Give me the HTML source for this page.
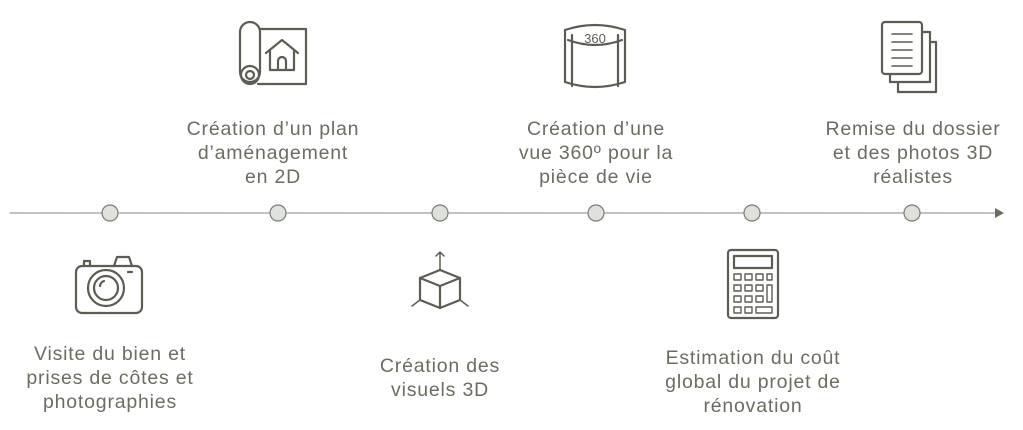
<!DOCTYPE html>
<html><head><meta charset="utf-8"><style>
body{margin:0;width:1023px;height:430px;background:#fff;position:relative;overflow:hidden;font-family:"Liberation Sans",sans-serif}
.t{position:absolute;width:280px;text-align:center;color:#6a6e60;font-size:19.5px;letter-spacing:0.8px;line-height:24px}
svg{position:absolute;left:0;top:0}
</style></head><body>
<svg width="1023" height="430" fill="none" stroke="#5a5e52" stroke-width="2.2" stroke-linecap="round" stroke-linejoin="round">
<line x1="10" y1="213" x2="1000" y2="213" stroke="#777" stroke-width="1" stroke-dasharray="1.5 1"/>
<polygon points="995,208 1004,213 995,218" fill="#6a6e60" stroke="none"/>
<g fill="#dfe1dc" stroke="#7a7c74" stroke-width="1.2">
<ellipse cx="110" cy="213" rx="8" ry="8"/><ellipse cx="278" cy="213" rx="8" ry="8"/><ellipse cx="440" cy="213" rx="8" ry="8"/><ellipse cx="596" cy="213" rx="8" ry="8"/><ellipse cx="752" cy="213" rx="8" ry="8"/><ellipse cx="912" cy="213" rx="8" ry="8"/></g>
<!-- plan -->
<rect x="240" y="22" width="20" height="60" rx="10"/><circle cx="250" cy="75" r="9"/><circle cx="250" cy="75" r="4"/>
<path d="M260 29H306V84H258"/><path d="M266 53L282 40L298 53M270 51V70H294V51M278 70V61A4 4 0 0 1 286 61V70"/>
<!-- 360 -->
<path d="M565 30Q595 20 625 30M565 30V82Q595 92 625 82V30M572 35V86M618 35V86"/>
<path d="M568 40Q595 50 622 40"/><text x="595" y="43" font-size="13" fill="#5a5e52" stroke="none" text-anchor="middle" font-family="Liberation Sans">360</text>
<!-- docs -->
<rect x="882" y="22" width="40" height="52" rx="3"/><path d="M922 32h8v50h-40v-8M930 42h6v50h-38v-10"/>
<path d="M892 34h20M892 42h20M892 50h20M892 58h20M892 66h20" stroke-width="1.6"/>
<!-- camera -->
<rect x="76" y="266" width="66" height="47" rx="6"/><path d="M84 266v-5h6v5M114 266l3-9h12l3 9"/><circle cx="106" cy="288" r="18"/><circle cx="106" cy="288" r="12"/><path d="M100 286a6 6 0 0 1 4-5"/><path d="M128 272h4"/>
<!-- cube -->
<path d="M420 278l20-8 20 8v22l-20 8-20-8zM420 278l20 8 20-8M440 286v22" /><path d="M440 270v-18M436 256l4-4 4 4M420 300l-8 6M460 300l8 6" stroke-width="1.5"/>
<!-- calc -->
<rect x="728" y="250" width="50" height="68" rx="3"/><rect x="734" y="256" width="38" height="12"/>
<g stroke-width="1.4"><rect x="734" y="274" width="7" height="6"/><rect x="745" y="274" width="7" height="6"/><rect x="756" y="274" width="7" height="6"/><rect x="767" y="274" width="5" height="6"/><rect x="734" y="285" width="7" height="6"/><rect x="745" y="285" width="7" height="6"/><rect x="756" y="285" width="7" height="6"/><rect x="767" y="285" width="5" height="17"/><rect x="734" y="296" width="7" height="6"/><rect x="745" y="296" width="7" height="6"/><rect x="756" y="296" width="7" height="6"/><rect x="734" y="307" width="7" height="6"/><rect x="745" y="307" width="7" height="6"/><rect x="756" y="307" width="16" height="6"/></g>
</svg>
<div class="t" style="left:133px;top:117px">Création d’un plan<br>d’aménagement<br>en 2D</div>
<div class="t" style="left:456px;top:117px">Création d’une<br>vue 360º pour la<br>pièce de vie</div>
<div class="t" style="left:773px;top:117px">Remise du dossier<br>et des photos 3D<br>réalistes</div>
<div class="t" style="left:-30px;top:342px">Visite du bien et<br>prises de côtes et<br>photographies</div>
<div class="t" style="left:300px;top:354px">Création des<br>visuels 3D</div>
<div class="t" style="left:613px;top:346px">Estimation du coût<br>global du projet de<br>rénovation</div>
</body></html>
